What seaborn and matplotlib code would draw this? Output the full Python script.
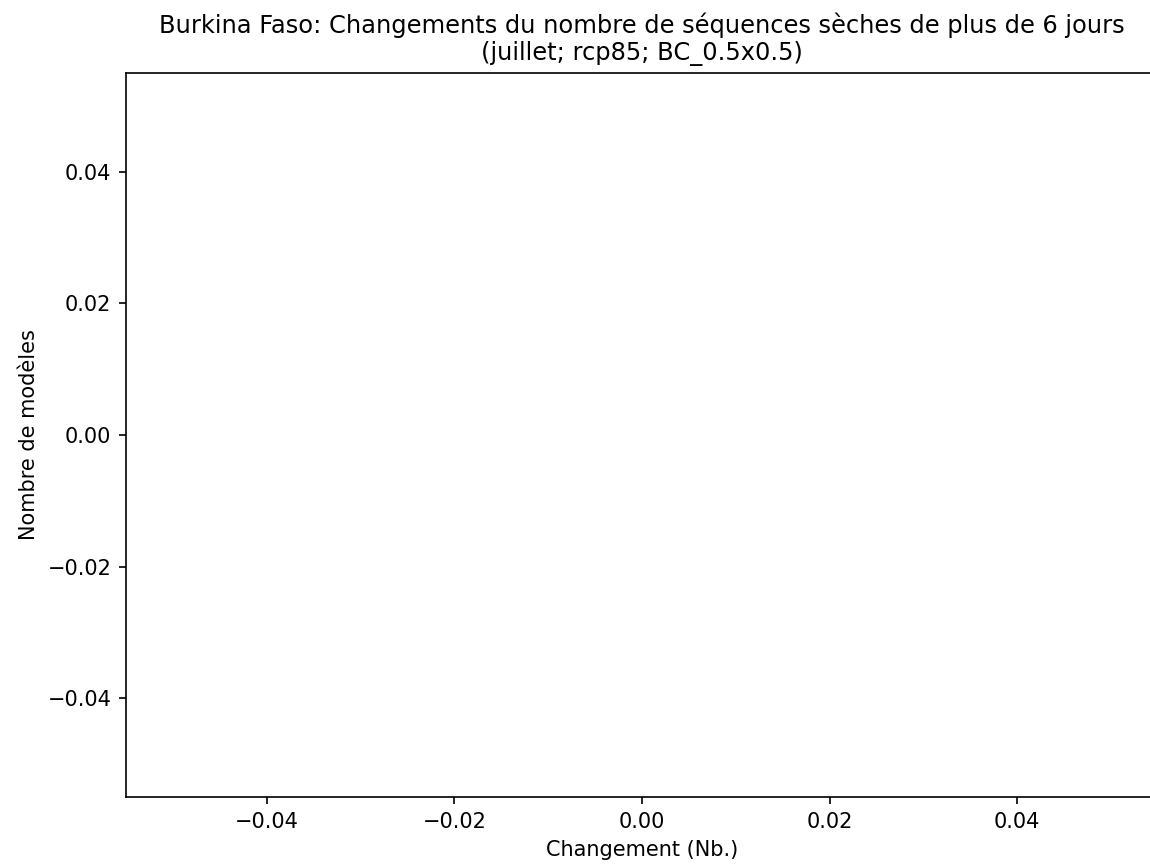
"""Histogram of model changes (empty selection) for Burkina Faso."""

import matplotlib
matplotlib.use("Agg")
import matplotlib.pyplot as plt
from matplotlib.ticker import FuncFormatter
import pandas as pd
import seaborn as sns

# no model passed the selection, so the series is empty
models = []
changes = []

title = ("Burkina Faso: Changements du nombre de séquences sèches de plus de 6 jours\n"
         "(juillet; rcp85; BC_0.5x0.5)")
ticks = [-0.04, -0.02, 0.0, 0.02, 0.04]

df = pd.DataFrame({"model": models, "change": pd.Series(changes, dtype=float)})


def fmt(v, pos):
    if abs(v) < 1e-9:
        return "0.00"
    return ("%.2f" % v).replace("-", "\u2212")


fig = plt.figure(figsize=(1150 / 150, 865 / 150), dpi=150)
ax = fig.add_axes([126 / 1150, 68 / 865, 1032 / 1150, 724 / 865])

if len(df):
    sns.histplot(data=df, x="change", ax=ax)

# matplotlib's default limits for a singular (empty / zero) range
ax.set_xlim(-0.055, 0.055)
ax.set_ylim(-0.055, 0.055)
ax.set_xticks(ticks)
ax.set_yticks(ticks)
ax.xaxis.set_major_formatter(FuncFormatter(fmt))
ax.yaxis.set_major_formatter(FuncFormatter(fmt))

ax.set_title(title, fontsize=11.6)
ax.set_xlabel("Changement (Nb.)")
ax.set_ylabel("Nombre de modèles")

fig.savefig("out.png", dpi=150)
